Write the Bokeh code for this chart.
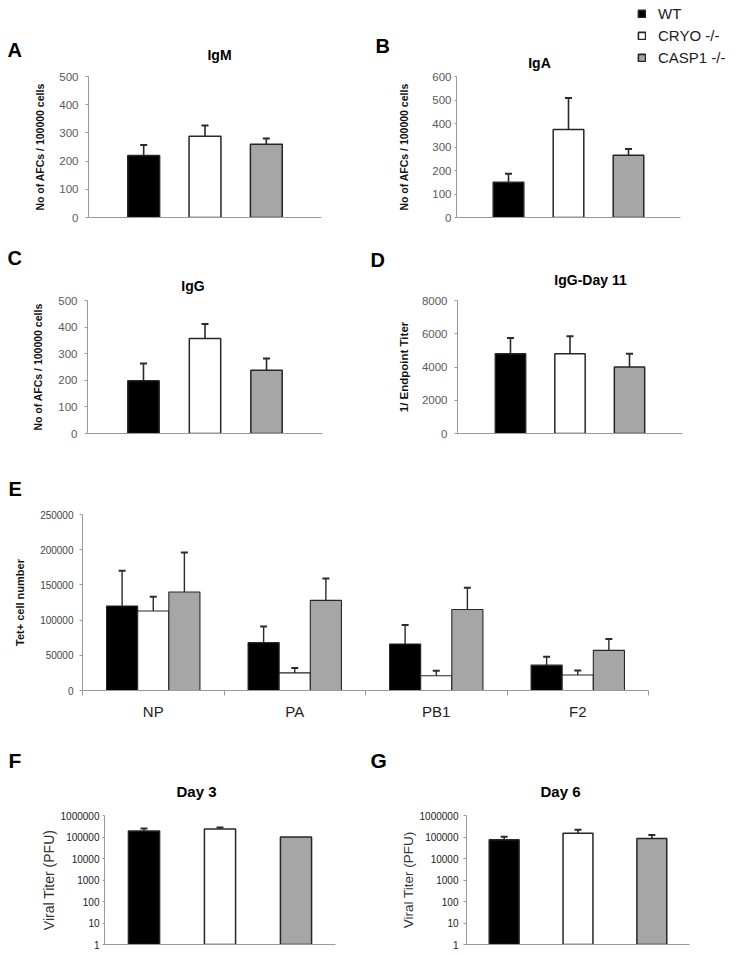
from bokeh.plotting import figure
from bokeh.models import (ColumnDataSource, Range1d, FixedTicker, NumeralTickFormatter,
                          Whisker, TeeHead, Label, Legend, LegendItem)
from bokeh.layouts import column, row
from bokeh.embed import file_html
from bokeh.resources import INLINE

# ---------------- data ----------------
groups = ["WT", "CRYO -/-", "CASP1 -/-"]

igm_vals = [220, 288, 260]
igm_err = [37, 38, 20]
iga_vals = [150, 375, 265]
iga_err = [36, 133, 26]
igg_vals = [198, 357, 238]
igg_err = [65, 55, 44]
igg11_vals = [4800, 4800, 4000]
igg11_err = [950, 1050, 800]

tet_epitopes = ["NP", "PA", "PB1", "F2"]
tet_wt = [120000, 68000, 66000, 36000]
tet_wt_err = [50000, 23000, 27000, 12000]
tet_cryo = [113000, 25000, 21000, 22000]
tet_cryo_err = [20000, 7000, 7000, 6500]
tet_casp1 = [140000, 128000, 115000, 57000]
tet_casp1_err = [56000, 31000, 31000, 16000]

day3_vals = [190000, 235000, 100000]
day3_err = [60000, 40000, 0]
day6_vals = [75000, 150000, 85000]
day6_err = [27000, 70000, 40000]

afc_ticks = [0, 100, 200, 300, 400, 500]
iga_ticks = [0, 100, 200, 300, 400, 500, 600]
titer_ticks = [0, 2000, 4000, 6000, 8000]
tet_ticks = [0, 50000, 100000, 150000, 200000, 250000]
pfu_ticks = [1, 10, 100, 1000, 10000, 100000, 1000000]

# ---------------- style ----------------
FONT = "Liberation Sans"
group_colors = ["#000000", "#ffffff", "#a6a6a6"]
BAR_LINE = "#262626"
AXIS_LINE = "#9a9a9a"
PAGE_W = 744


def header(h, w=PAGE_W):
    p = figure(frame_width=w, frame_height=h, x_range=Range1d(0, w), y_range=Range1d(h, 0),
               min_border_left=0, min_border_right=0, min_border_top=0, min_border_bottom=0,
               x_axis_location=None, y_axis_location=None,
               output_backend="svg", toolbar_location=None, tools="")
    p.outline_line_color = None
    for g in p.grid:
        g.visible = False
    return p


def put_text(p, top, ax, ay, text, size, bold=True, align="left", color="#000000"):
    # ay = vertical centre of the text's capitals, in page pixels
    p.add_layout(Label(x=ax, y=ay - top, text=text, text_align=align,
                       text_baseline="middle", text_font=FONT, text_font_size=size,
                       text_font_style="bold" if bold else "normal", text_color=color))


def base_fig(l, fw, r, t, fh, b, xr, yr, log=False):
    p = figure(frame_width=fw, frame_height=fh, min_border_left=l, min_border_right=r,
               min_border_top=t, min_border_bottom=b, x_range=xr, y_range=yr,
               y_axis_type="log" if log else "linear",
               output_backend="svg", toolbar_location=None, tools="")
    p.outline_line_color = None
    p.xgrid.visible = False
    p.ygrid.visible = False
    return p


def style_yaxis(p, ticks, label, label_size, label_bold, tick_size, tick_color,
                tick_out, standoff, label_standoff, label_color="#111111"):
    ax = p.yaxis[0]
    ax.ticker = FixedTicker(ticks=ticks)
    ax.formatter = NumeralTickFormatter(format="0")
    ax.axis_line_color = AXIS_LINE
    ax.major_tick_line_color = AXIS_LINE
    ax.major_tick_out = tick_out
    ax.major_tick_in = 0
    ax.minor_tick_line_color = None
    ax.major_label_standoff = standoff
    ax.major_label_text_font = FONT
    ax.major_label_text_font_size = tick_size
    ax.major_label_text_color = tick_color
    ax.axis_label = label
    ax.axis_label_text_font = FONT
    ax.axis_label_text_font_size = label_size
    ax.axis_label_text_font_style = "bold" if label_bold else "normal"
    ax.axis_label_text_color = label_color
    ax.axis_label_standoff = label_standoff


def plain_xaxis(p):
    ax = p.xaxis[0]
    ax.ticker = FixedTicker(ticks=[])
    ax.axis_line_color = AXIS_LINE
    ax.major_tick_line_color = None
    ax.minor_tick_line_color = None


def three_bars(p, vals, errs, bw, bottom=0, lw=1.5):
    xs = [i + 1 for i in range(len(vals))]
    src = ColumnDataSource(dict(x=xs, top=vals, color=group_colors))
    p.vbar(x="x", top="top", bottom=bottom, width=bw, source=src,
           fill_color="color", line_color=BAR_LINE, line_width=lw)
    keep = [i for i, e in enumerate(errs) if e > 0]
    esrc = ColumnDataSource(dict(x=[xs[i] for i in keep], lo=[vals[i] for i in keep],
                                 hi=[vals[i] + errs[i] for i in keep]))
    p.add_layout(Whisker(source=esrc, base="x", lower="lo", upper="hi", dimension="height",
                         line_color="#2a2a2a", line_width=1.6,
                         upper_head=TeeHead(size=7, line_color="#2a2a2a", line_width=2),
                         lower_head=None))


AFC_LABEL = "No of AFCs / 100000 cells"

# ---------------- header 1 (y 0..71) ----------------
h1 = header(71)
put_text(h1, 0, 7, 49, "A", "20px")
put_text(h1, 0, 375, 45.5, "B", "20px")
put_text(h1, 0, 219, 54.5, "IgM", "14px", align="center")
put_text(h1, 0, 539, 62.5, "IgA", "14px", align="center")
# legend swatches: hidden single-bar renderers, one per group (only their legend glyph shows)
leg_r = []
for c in group_colors:
    leg_r.append(h1.vbar(x=[0], top=[1], width=1, fill_color=c, line_color=BAR_LINE,
                         line_width=1.6, visible=False))
legend = Legend(items=[LegendItem(label=g, renderers=[r]) for g, r in zip(groups, leg_r)],
                location=(637, 4), orientation="vertical",
                glyph_width=9, glyph_height=9, label_standoff=12,
                label_text_font=FONT, label_text_font_size="15px", label_text_color="#222222",
                label_height=20, spacing=2, padding=0, margin=0,
                inactive_fill_alpha=0,
                border_line_color=None, background_fill_alpha=0)
h1.add_layout(legend)

# ---------------- A: IgM ----------------
pA = base_fig(88, 233, 49, 5, 141, 23, Range1d(0.1, 3.9), Range1d(0, 500))
three_bars(pA, igm_vals, igm_err, 0.52)
style_yaxis(pA, afc_ticks, AFC_LABEL, "10.5px", True, "11.5px", "#5a5a5a", 3, 7, 10)
plain_xaxis(pA)

# ---------------- B: IgA ----------------
pB = base_fig(86, 224, 64, 5, 141, 23, Range1d(0.133, 3.867), Range1d(0, 600))
three_bars(pB, iga_vals, iga_err, 0.51)
style_yaxis(pB, iga_ticks, AFC_LABEL, "10.5px", True, "11.5px", "#5a5a5a", 2, 3, 19)
plain_xaxis(pB)

# ---------------- header 2 (y 240..295) ----------------
h2 = header(55)
put_text(h2, 240, 7, 257.5, "C", "20px")
put_text(h2, 240, 370, 259.5, "D", "20px")
put_text(h2, 240, 192.5, 285.5, "IgG", "14px", align="center")
put_text(h2, 240, 590, 279.5, "IgG-Day 11", "14px", align="center")

# ---------------- C: IgG ----------------
pC = base_fig(87, 235, 48, 5, 133, 27, Range1d(0.09, 3.91), Range1d(0, 500))
three_bars(pC, igg_vals, igg_err, 0.51)
style_yaxis(pC, afc_ticks, AFC_LABEL, "10.5px", True, "11.5px", "#5a5a5a", 3, 7, 11)
plain_xaxis(pC)

# ---------------- D: IgG-Day 11 ----------------
pD = base_fig(87, 225, 62, 5, 133, 27, Range1d(0.11, 3.89), Range1d(0, 8000))
three_bars(pD, igg11_vals, igg11_err, 0.51)
style_yaxis(pD, titer_ticks, "1/ Endpoint Titer", "11.5px", True, "11.5px", "#5a5a5a", 3, 7, 9)
plain_xaxis(pD)

# ---------------- header 3 (y 460..505) ----------------
h3 = header(45)
put_text(h3, 460, 8, 488.5, "E", "20px")

# ---------------- E: Tet+ ----------------
pE = base_fig(82, 566, 96, 9, 176, 35, Range1d(0, 4), Range1d(0, 250000))
bwE = 0.22
offsets = [-bwE, 0, bwE]
series = [(tet_wt, tet_wt_err), (tet_cryo, tet_cryo_err), (tet_casp1, tet_casp1_err)]
for gi, (vals, errs) in enumerate(series):
    xs = [i + 0.5 + offsets[gi] for i in range(len(tet_epitopes))]
    src = ColumnDataSource(dict(x=xs, top=vals))
    pE.vbar(x="x", top="top", bottom=0, width=bwE, source=src,
            fill_color=group_colors[gi], line_color=BAR_LINE, line_width=1.1)
    esrc = ColumnDataSource(dict(x=xs, lo=vals, hi=[v + e for v, e in zip(vals, errs)]))
    pE.add_layout(Whisker(source=esrc, base="x", lower="lo", upper="hi", dimension="height",
                          line_color="#2a2a2a", line_width=1.4,
                          upper_head=TeeHead(size=7, line_color="#2a2a2a", line_width=2),
                          lower_head=None))
style_yaxis(pE, tet_ticks, "Tet+ cell number", "11px", True, "10px", "#444444", 3, 6, 11)
axE = pE.xaxis[0]
centers = [i + 0.5 for i in range(len(tet_epitopes))]
axE.ticker = FixedTicker(ticks=centers, minor_ticks=[i for i in range(len(tet_epitopes) + 1)])
axE.major_label_overrides = {c: n for c, n in zip(centers, tet_epitopes)}
axE.axis_line_color = AXIS_LINE
axE.major_tick_line_color = None
axE.major_tick_out = 0
axE.major_tick_in = 0
axE.minor_tick_line_color = AXIS_LINE
axE.minor_tick_out = 5
axE.minor_tick_in = 0
axE.major_label_standoff = 7
axE.major_label_text_font = FONT
axE.major_label_text_font_size = "15px"
axE.major_label_text_color = "#222222"

# ---------------- header 4 (y 725..803) ----------------
h4 = header(78)
put_text(h4, 725, 8, 760, "F", "21px")
put_text(h4, 725, 370, 760, "G", "21px")
put_text(h4, 725, 196, 791, "Day 3", "15px", align="center")
put_text(h4, 725, 560, 791, "Day 6", "15px", align="center")

# ---------------- F: Day 3 ----------------
pF = base_fig(104, 231, 35, 12, 129, 10, Range1d(0.48, 3.52), Range1d(1, 1000000), log=True)
three_bars(pF, day3_vals, day3_err, 0.41, bottom=1)
style_yaxis(pF, pfu_ticks, "Viral Titer (PFU)", "14px", False, "10px", "#1a1a1a", 2, 3, 1,
            label_color="#333333")
plain_xaxis(pF)

# ---------------- G: Day 6 ----------------
pG = base_fig(96, 223, 55, 12, 129, 10, Range1d(0.49, 3.51), Range1d(1, 1000000), log=True)
three_bars(pG, day6_vals, day6_err, 0.405, bottom=1)
style_yaxis(pG, pfu_ticks, "Viral Titer (PFU)", "13.5px", False, "10px", "#1a1a1a", 3, 5, 1,
            label_color="#333333")
plain_xaxis(pG)

layout = column(row(h1), row(pA, pB), row(h2), row(pC, pD), row(h3), row(pE),
                row(h4), row(pF, pG))

with open("out.html", "w") as f:
    f.write(file_html(layout, INLINE))
